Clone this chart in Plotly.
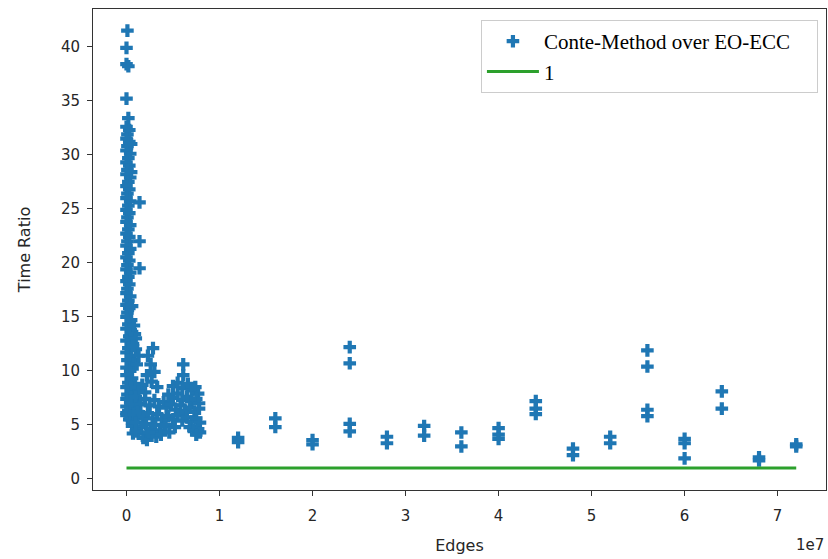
import numpy as np
import plotly.graph_objects as go

# ---- data (edges in millions, time ratio) ----
col_edges_m = [0.1, 0.0, 0.0, 0.2, 0.0, 0.2,
               0.0, 0.3, 0.1, 0.0, 0.3, 0.1, 0.0, 0.4, 0.2, 0.0, 0.3, 0.1, 0.0, 0.4, 0.2, 0.0, 0.3, 0.1, 0.0,
               0.4, 0.2, 0.0, 0.3, 0.1, 0.0, 0.4, 0.2, 0.0, 0.3, 0.1, 0.0, 0.4, 0.2, 0.0, 0.3, 0.1, 0.0, 0.4,
               0.2, 0.0, 0.3, 0.1, 0.0, 0.4, 0.2, 0.0, 0.3, 0.1, 0.0, 0.5, 0.2, 0.0, 0.6, 0.3, 0.0, 0.7, 0.2,
               0.0, 0.5, 0.1, 0.8, 0.0, 0.4, 0.0, 0.6, 0.2, 0.0, 0.5, 0.1, 0.0, 0.4, 0.0, 0.2, 0.0,
               1.4, 1.4, 1.4, 0.5, 0.5, 0.6, 0.9, 1.0, 1.1, 0.9,
               0.8, 1.0, 0.7, 1.3, 0.6, 1.2, 0.9, 0.6, 1.2]
col_ratio = [41.5, 39.9, 38.4, 38.2, 35.2, 33.4,
             32.6, 32.3, 31.9, 31.5, 31.2, 30.8, 30.4, 30.1, 29.7, 29.3, 29.0, 28.6, 28.2, 27.9, 27.5, 27.1, 26.8, 26.4, 26.0,
             25.7, 25.3, 24.9, 24.6, 24.2, 23.8, 23.5, 23.1, 22.7, 22.4, 22.0, 21.6, 21.3, 20.9, 20.5, 20.2, 19.8, 19.4, 19.1,
             18.7, 18.3, 18.0, 17.6, 17.2, 16.9, 16.5, 16.1, 15.8, 15.4, 15.0, 14.7, 14.3, 13.9, 13.6, 13.2, 12.8, 12.5, 12.1,
             11.7, 11.4, 11.0, 10.7, 10.3, 10.0, 9.6, 9.3, 8.9, 8.5, 8.2, 7.8, 7.4, 7.1, 6.7, 6.3, 5.9,
             25.6, 22.0, 19.5, 31.0, 28.4, 16.0, 13.4, 12.0, 10.6, 8.8,
             14.2, 13.0, 12.3, 11.4, 7.6, 7.0, 6.6, 5.2, 5.6]

low_edges_m = [0.3, 0.0, 0.6, 0.7, 0.5, 0.9, 1.0, 0.8,
               2.3, 2.85, 2.6, 3.0, 2.2, 1.7, 2.7, 3.3, 2.0, 1.3,
               1.0, 1.5, 2.0, 2.5, 3.0, 3.5, 4.0,
               1.2, 1.8, 2.3, 2.8, 3.3, 3.8,
               1.0, 1.6, 2.1, 2.6, 3.1, 3.6, 4.1,
               1.3, 1.8, 2.2, 2.7, 3.2, 3.7, 1.0, 2.4]
low_ratio = [5.5, 6.1, 4.9, 4.2, 7.0, 7.6, 8.4, 6.0,
             11.4, 12.1, 10.6, 9.9, 9.6, 8.7, 9.0, 8.5, 8.0, 8.1,
             7.6, 6.9, 7.4, 6.8, 7.3, 6.7, 7.1,
             6.2, 5.8, 6.1, 5.6, 6.0, 5.5,
             5.2, 4.8, 5.1, 4.6, 5.0, 4.5, 4.9,
             4.2, 3.8, 3.6, 4.0, 3.9, 4.1, 4.4, 4.3]

mid_edges_m = [6.1, 6.1, 5.0, 5.5, 6.0, 6.6, 7.0, 7.4, 7.7,
               4.5, 5.0, 5.5, 6.0, 6.5, 7.0, 7.5, 7.8,
               4.3, 4.8, 5.3, 5.8, 6.3, 6.8, 7.3, 7.8,
               4.5, 5.0, 5.5, 6.0, 6.5, 7.0, 7.5, 7.9,
               4.2, 5.2, 6.8, 7.2, 7.7, 7.9, 7.5, 4.6]
mid_ratio = [10.6, 9.6, 8.6, 8.9, 8.4, 8.8, 8.2, 8.5, 7.9,
             7.8, 7.5, 7.9, 7.3, 7.6, 7.2, 7.4, 7.0,
             6.6, 6.9, 6.4, 6.8, 6.3, 6.6, 6.2, 6.5,
             5.8, 5.5, 5.9, 5.4, 5.7, 5.3, 5.6, 5.2,
             5.0, 4.8, 4.8, 4.5, 4.6, 4.3, 4.1, 4.3]

big_edges_m = [12, 12, 16, 16, 20, 20, 24, 24, 24, 24, 28, 28, 32, 32, 36, 36,
               40, 40, 40, 44, 44, 44, 48, 48, 52, 52, 56, 56, 56, 56,
               60, 60, 60, 64, 64, 68, 68, 72, 72]
big_ratio = [3.8, 3.4, 5.6, 4.8, 3.6, 3.2, 12.2, 10.7, 5.1, 4.4, 3.9, 3.3, 4.9, 4.0, 4.3, 3.0,
             4.7, 4.1, 3.7, 7.2, 6.5, 6.0, 2.8, 2.2, 3.9, 3.3, 11.9, 10.4, 6.4, 5.8,
             3.7, 3.3, 1.9, 8.1, 6.5, 2.0, 1.7, 3.2, 3.0]

line_edges = [0, 72_000_000]
line_ratio = [1, 1]

x_ticks = [0, 1, 2, 3, 4, 5, 6, 7]
y_ticks = [0, 5, 10, 15, 20, 25, 30, 35, 40]

edges = np.array(col_edges_m + low_edges_m + mid_edges_m + big_edges_m) * 1e6
ratio = col_ratio + low_ratio + mid_ratio + big_ratio

blue = "#1f77b4"
green = "#2ca02c"
tick_font = dict(family="DejaVu Sans", size=15, color="#262626")
pad = "\u00a0\u00a0\u00a0\u00a0"

fig = go.Figure()
fig.add_trace(go.Scatter(
    x=edges, y=ratio, mode="markers", name="Conte-Method over EO-ECC" + pad,
    marker=dict(symbol="cross", size=10.5, color=blue, line=dict(width=0)),
))
fig.add_trace(go.Scatter(
    x=line_edges, y=line_ratio, mode="lines", name="1",
    line=dict(color=green, width=3),
))

fig.update_layout(
    width=828, height=559,
    margin=dict(l=93, r=2, t=9, b=69),
    paper_bgcolor="white", plot_bgcolor="white",
    showlegend=True,
    legend=dict(
        x=0.989, y=0.977, xanchor="right", yanchor="top",
        bgcolor="rgba(255,255,255,0.8)", bordercolor="#cccccc", borderwidth=1,
        font=dict(family="Liberation Serif", size=21, color="black"),
        itemwidth=52, tracegroupgap=0,
    ),
)
fig.update_xaxes(
    range=[-0.36e7, 7.52e7],
    tickvals=[t * 1e7 for t in x_ticks], ticktext=[str(t) for t in x_ticks],
    showline=True, linecolor="#333333", linewidth=1, mirror=True,
    ticks="outside", ticklen=5, tickcolor="#333333", ticklabelstandoff=7,
    showgrid=False, zeroline=False, tickfont=tick_font,
    title=dict(text="Edges", font=dict(family="DejaVu Sans", size=16, color="#262626"), standoff=15),
)
fig.update_yaxes(
    range=[-1.03, 43.5],
    tickvals=y_ticks,
    showline=True, linecolor="#333333", linewidth=1, mirror=True,
    ticks="outside", ticklen=5, tickcolor="#333333", ticklabelstandoff=4,
    showgrid=False, zeroline=False, tickfont=tick_font,
    title=dict(text="Time Ratio", font=dict(family="DejaVu Sans", size=16, color="#262626"), standoff=26),
)
fig.add_annotation(
    text="1e7", xref="paper", yref="paper", x=1.0, y=-0.115,
    xanchor="right", yanchor="middle", showarrow=False,
    font=dict(family="DejaVu Sans", size=15, color="#262626"),
)

fig.write_html("out.html", config={"displayModeBar": False},
               post_script="document.body.style.margin='0px';")
